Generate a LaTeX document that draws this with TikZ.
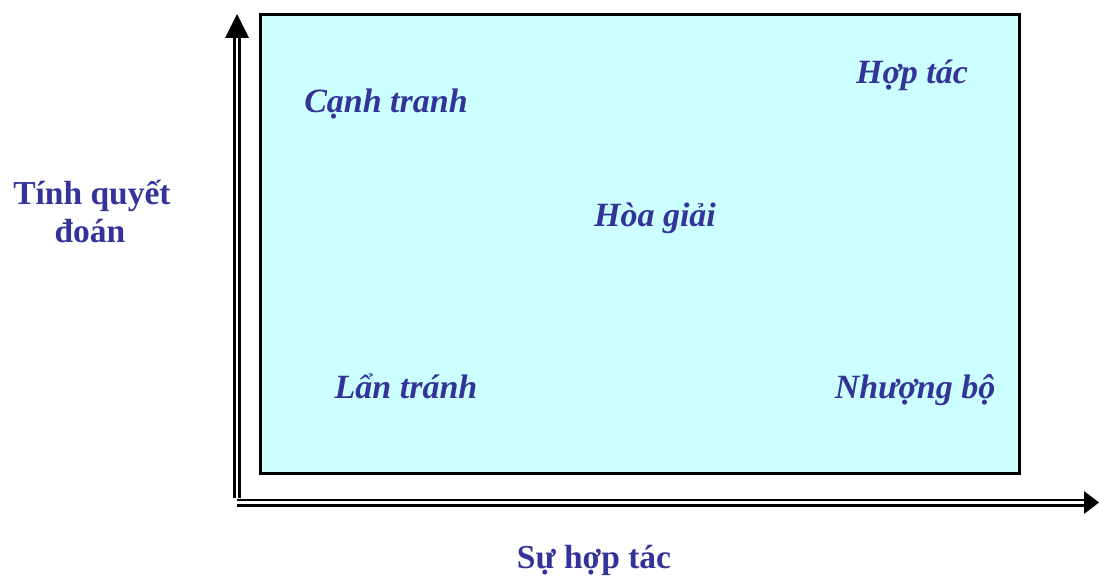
\documentclass[tikz,border=0pt]{standalone}
\usepackage{fontspec}
\setmainfont{Liberation Serif}
\definecolor{txt}{HTML}{333399}
\definecolor{panel}{HTML}{CCFFFF}
\begin{document}
\begin{tikzpicture}[x=1pt,y=-1pt,
  lbl/.style={text=txt,font=\fontsize{34}{38}\selectfont\bfseries\itshape,anchor=base,inner sep=0pt},
  axlbl/.style={text=txt,font=\fontsize{33.5}{37}\selectfont\bfseries,anchor=base,inner sep=0pt,align=center},
  axis/.style={draw=black,line width=2.6pt,double=white,double distance=2.8pt},
  head/.style={fill=black}]
\useasboundingbox (0,0) rectangle (1099,577);
\draw[fill=panel,draw=black,line width=3pt] (260,15) rectangle (1019,473);
% axes
\coordinate (origin) at (237,502.5);
\coordinate (ytop) at (237,38);
\coordinate (xend) at (1084,502.5);
\draw[axis] (237,498) -- (ytop);
\draw[axis] (origin) -- (xend);
\fill[head] (225,38) -- (249,38) -- (237,14) -- cycle;
\fill[head] (1084,491) -- (1084,514) -- (1099,502.5) -- cycle;
% labels
\node[lbl] (canh) at (386,113) {Cạnh tranh};
\node[lbl] (hop) at (912,84) {Hợp tác};
\node[lbl] (hoa) at (655,227) {Hòa giải};
\node[lbl] (lan) at (406,398) {Lẩn tránh};
\node[lbl] (nhuong) at (915,398) {Nhượng bộ};
\node[axlbl] (tinh) at (92,205) {Tính quyết};
\node[axlbl] (doan) at (90,243) {đoán};
\node[axlbl] (su) at (594,568) {Sự hợp tác};
\end{tikzpicture}
\end{document}
